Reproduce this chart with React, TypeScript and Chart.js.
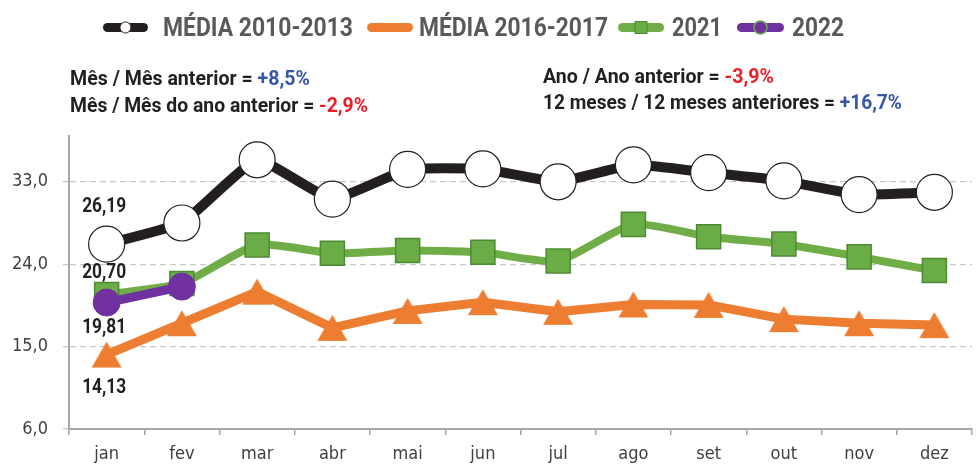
import { useEffect, useRef } from 'react';
import { Chart, registerables } from 'chart.js';

Chart.register(...registerables);

const months = ['jan', 'fev', 'mar', 'abr', 'mai', 'jun', 'jul', 'ago', 'set', 'out', 'nov', 'dez'];
const media2010_2013 = [26.19, 28.5, 35.4, 31.1, 34.35, 34.4, 33.0, 34.85, 34.0, 33.1, 31.6, 31.85];
const media2016_2017 = [14.13, 17.55, 21.0, 17.05, 18.9, 19.85, 18.8, 19.6, 19.55, 18.0, 17.55, 17.35];
const serie2021 = [20.7, 21.9, 26.1, 25.2, 25.5, 25.3, 24.35, 28.35, 27.0, 26.2, 24.8, 23.3];
const serie2022 = [19.81, 21.55];
const yTicks = [6, 15, 24, 33];
const seriesNames = ['MÉDIA 2010-2013', 'MÉDIA 2016-2017', '2021', '2022'];
const notesLeft = [
  ['Mês / Mês anterior = ', '+8,5%'],
  ['Mês / Mês do ano anterior = ', '-2,9%'],
];
const notesRight = [
  ['Ano / Ano anterior = ', '-3,9%'],
  ['12 meses / 12 meses anteriores = ', '+16,7%'],
];

const TEXTF = 'Roboto, "DejaVu Sans Condensed", sans-serif';
const COND = '"DejaVu Sans Condensed", "Liberation Sans Narrow", sans-serif';
const C_BLACK = '#231f20';
const C_ORANGE = '#ed7d31';
const C_GREEN = '#70ad47';
const C_GREEN_FILL = '#6aac46';
const C_GREEN_EDGE = '#4e8a33';
const C_PURPLE = '#7030a0';
const C_BLUE = '#3656a8';
const C_RED = '#ee1c25';

function makeTriangle(): HTMLCanvasElement {
  const c = document.createElement('canvas');
  c.width = 32;
  c.height = 28;
  const g = c.getContext('2d')!;
  g.fillStyle = C_ORANGE;
  g.beginPath();
  g.moveTo(16, 1);
  g.lineTo(31, 27);
  g.lineTo(1, 27);
  g.closePath();
  g.fill();
  return c;
}

function drawFit(
  ctx: CanvasRenderingContext2D,
  parts: [string, string][],
  x: number,
  baseline: number,
  font: string,
  width: number
) {
  ctx.save();
  ctx.font = font;
  ctx.textBaseline = 'alphabetic';
  ctx.textAlign = 'left';
  const total = parts.reduce((s, p) => s + ctx.measureText(p[0]).width, 0);
  ctx.translate(x, baseline);
  ctx.scale(width / total, 1);
  let cx = 0;
  for (const [t, col] of parts) {
    ctx.fillStyle = col;
    ctx.fillText(t, cx, 0);
    cx += ctx.measureText(t).width;
  }
  ctx.restore();
}

const overlayPlugin = {
  id: 'overlay',
  afterDraw(chart: any) {
    const ctx: CanvasRenderingContext2D = chart.ctx;
    // Legend
    const legendFont = `bold 25px ${TEXTF}`;
    const ly = 27.5;
    const items = [
      { x0: 103, x1: 148, tx: 163, tw: 190, color: C_BLACK },
      { x0: 367, x1: 413, tx: 419, tw: 189, color: C_ORANGE },
      { x0: 618, x1: 664, tx: 672, tw: 50, color: C_GREEN },
      { x0: 737, x1: 784, tx: 792, tw: 52, color: C_PURPLE },
    ];
    items.forEach((it, i) => {
      ctx.save();
      ctx.strokeStyle = it.color;
      ctx.lineWidth = 9;
      ctx.lineCap = 'round';
      ctx.beginPath();
      ctx.moveTo(it.x0 + 4.5, ly);
      ctx.lineTo(it.x1 - 4.5, ly);
      ctx.stroke();
      const mx = (it.x0 + it.x1) / 2;
      if (i === 0) {
        ctx.fillStyle = '#fff';
        ctx.strokeStyle = C_BLACK;
        ctx.lineWidth = 1;
        ctx.beginPath();
        ctx.arc(mx, ly, 5.5, 0, Math.PI * 2);
        ctx.fill();
        ctx.stroke();
      } else if (i === 1) {
        ctx.fillStyle = C_ORANGE;
        ctx.beginPath();
        ctx.moveTo(mx, ly - 5);
        ctx.lineTo(mx + 5, ly + 4);
        ctx.lineTo(mx - 5, ly + 4);
        ctx.closePath();
        ctx.fill();
      } else if (i === 2) {
        ctx.fillStyle = C_GREEN_FILL;
        ctx.strokeStyle = C_GREEN_EDGE;
        ctx.lineWidth = 1;
        ctx.fillRect(mx - 6, ly - 6, 12, 12);
        ctx.strokeRect(mx - 6, ly - 6, 12, 12);
      } else {
        ctx.fillStyle = C_PURPLE;
        ctx.strokeStyle = C_GREEN_FILL;
        ctx.lineWidth = 1.5;
        ctx.beginPath();
        ctx.arc(mx, ly, 6.5, 0, Math.PI * 2);
        ctx.fill();
        ctx.stroke();
      }
      ctx.restore();
      drawFit(ctx, [[seriesNames[i], '#595959']], it.tx, 36, legendFont, it.tw);
    });

    // Notes
    const noteFont = `bold 20px ${TEXTF}`;
    const colorOf = (s: string) => (s.startsWith('+') ? C_BLUE : C_RED);
    drawFit(ctx, [[notesLeft[0][0], C_BLACK], [notesLeft[0][1], colorOf(notesLeft[0][1])]], 70, 85, noteFont, 240);
    drawFit(ctx, [[notesLeft[1][0], C_BLACK], [notesLeft[1][1], colorOf(notesLeft[1][1])]], 70, 111.5, noteFont, 298);
    drawFit(ctx, [[notesRight[0][0], C_BLACK], [notesRight[0][1], colorOf(notesRight[0][1])]], 543, 82.5, noteFont, 231);
    drawFit(ctx, [[notesRight[1][0], C_BLACK], [notesRight[1][1], colorOf(notesRight[1][1])]], 543, 108.5, noteFont, 359);

    // January value labels
    const labelFont = `bold 21px ${TEXTF}`;
    ctx.save();
    ctx.font = labelFont;
    const sx = 44 / ctx.measureText('26,19').width;
    ctx.restore();
    const janLabels = [
      { ds: 0, dy: -37 },
      { ds: 2, dy: -22 },
      { ds: 3, dy: 25 },
      { ds: 1, dy: 33 },
    ];
    janLabels.forEach(({ ds, dy }) => {
      const meta = chart.getDatasetMeta(ds);
      const pt = meta.data[0];
      const v = chart.data.datasets[ds].data[0] as number;
      const txt = v.toFixed(2).replace('.', ',');
      ctx.save();
      ctx.font = labelFont;
      ctx.fillStyle = C_BLACK;
      ctx.textAlign = 'center';
      ctx.textBaseline = 'middle';
      ctx.translate(pt.x - 2.5, pt.y + dy);
      ctx.scale(sx, 1);
      ctx.fillText(txt, 0, 0);
      ctx.restore();
    });
  },
};

export default function App() {
  const ref = useRef<HTMLCanvasElement>(null);
  useEffect(() => {
    document.body.style.margin = '0';
    const tri = makeTriangle();
    const chart = new Chart(ref.current!, {
      type: 'line',
      data: {
        labels: months,
        datasets: [
          {
            label: seriesNames[0],
            data: media2010_2013,
            borderColor: C_BLACK,
            borderWidth: 10,
            tension: 0.12,
            borderJoinStyle: 'round',
            pointStyle: 'circle',
            pointRadius: 18,
            pointBackgroundColor: '#ffffff',
            pointBorderColor: C_BLACK,
            pointBorderWidth: 1.2,
            order: 3,
            clip: false,
          },
          {
            label: seriesNames[1],
            data: media2016_2017,
            borderColor: C_ORANGE,
            borderWidth: 9,
            tension: 0,
            borderJoinStyle: 'round',
            pointStyle: tri,
            pointRadius: 16,
            order: 2,
            clip: false,
          },
          {
            label: seriesNames[2],
            data: serie2021,
            borderColor: C_GREEN,
            borderWidth: 8,
            tension: 0.2,
            borderJoinStyle: 'round',
            pointStyle: 'rect',
            pointRadius: 17,
            pointBackgroundColor: C_GREEN_FILL,
            pointBorderColor: C_GREEN_EDGE,
            pointBorderWidth: 1.5,
            order: 1,
            clip: false,
          },
          {
            label: seriesNames[3],
            data: serie2022,
            borderColor: C_PURPLE,
            borderWidth: 9,
            tension: 0,
            pointStyle: 'circle',
            pointRadius: 13.5,
            pointBackgroundColor: C_PURPLE,
            pointBorderColor: C_PURPLE,
            pointBorderWidth: 1,
            order: 0,
            clip: false,
          },
        ] as any,
      },
      options: {
        animation: false,
        responsive: false,
        devicePixelRatio: 1,
        layout: { autoPadding: false, padding: { top: 136, right: 7, left: 0, bottom: 0 } },
        plugins: { legend: { display: false }, tooltip: { enabled: false }, title: { display: false } },
        scales: {
          x: {
            type: 'category',
            offset: true,
            grid: {
              offset: true,
              drawOnChartArea: false,
              drawTicks: true,
              tickLength: 6,
              color: '#a6a6a6',
              lineWidth: 1.5,
            },
            border: { color: '#a6a6a6', width: 2 },
            ticks: { color: '#404040', font: { family: COND, size: 18 }, padding: 9, maxRotation: 0 },
            afterFit: (s: any) => {
              s.height = 36;
            },
          },
          y: {
            min: 6,
            max: 38,
            afterBuildTicks: (s: any) => {
              s.ticks = yTicks.map((v) => ({ value: v }));
            },
            grid: { color: '#c8c8c8', lineWidth: 1.3, tickLength: 6, drawTicks: true },
            border: { color: '#a6a6a6', width: 2, dash: [6, 4] },
            ticks: {
              color: '#404040',
              font: { family: COND, size: 18 },
              padding: 15,
              callback: (v: any) => Number(v).toFixed(1).replace('.', ','),
            },
            afterFit: (s: any) => {
              s.width = 69;
            },
          },
        },
      } as any,
      plugins: [overlayPlugin],
    });
    return () => chart.destroy();
  }, []);
  return (
    <div style={{ width: 979, height: 465 }}>
      <canvas ref={ref} width={979} height={465} style={{ display: 'block' }} />
    </div>
  );
}
